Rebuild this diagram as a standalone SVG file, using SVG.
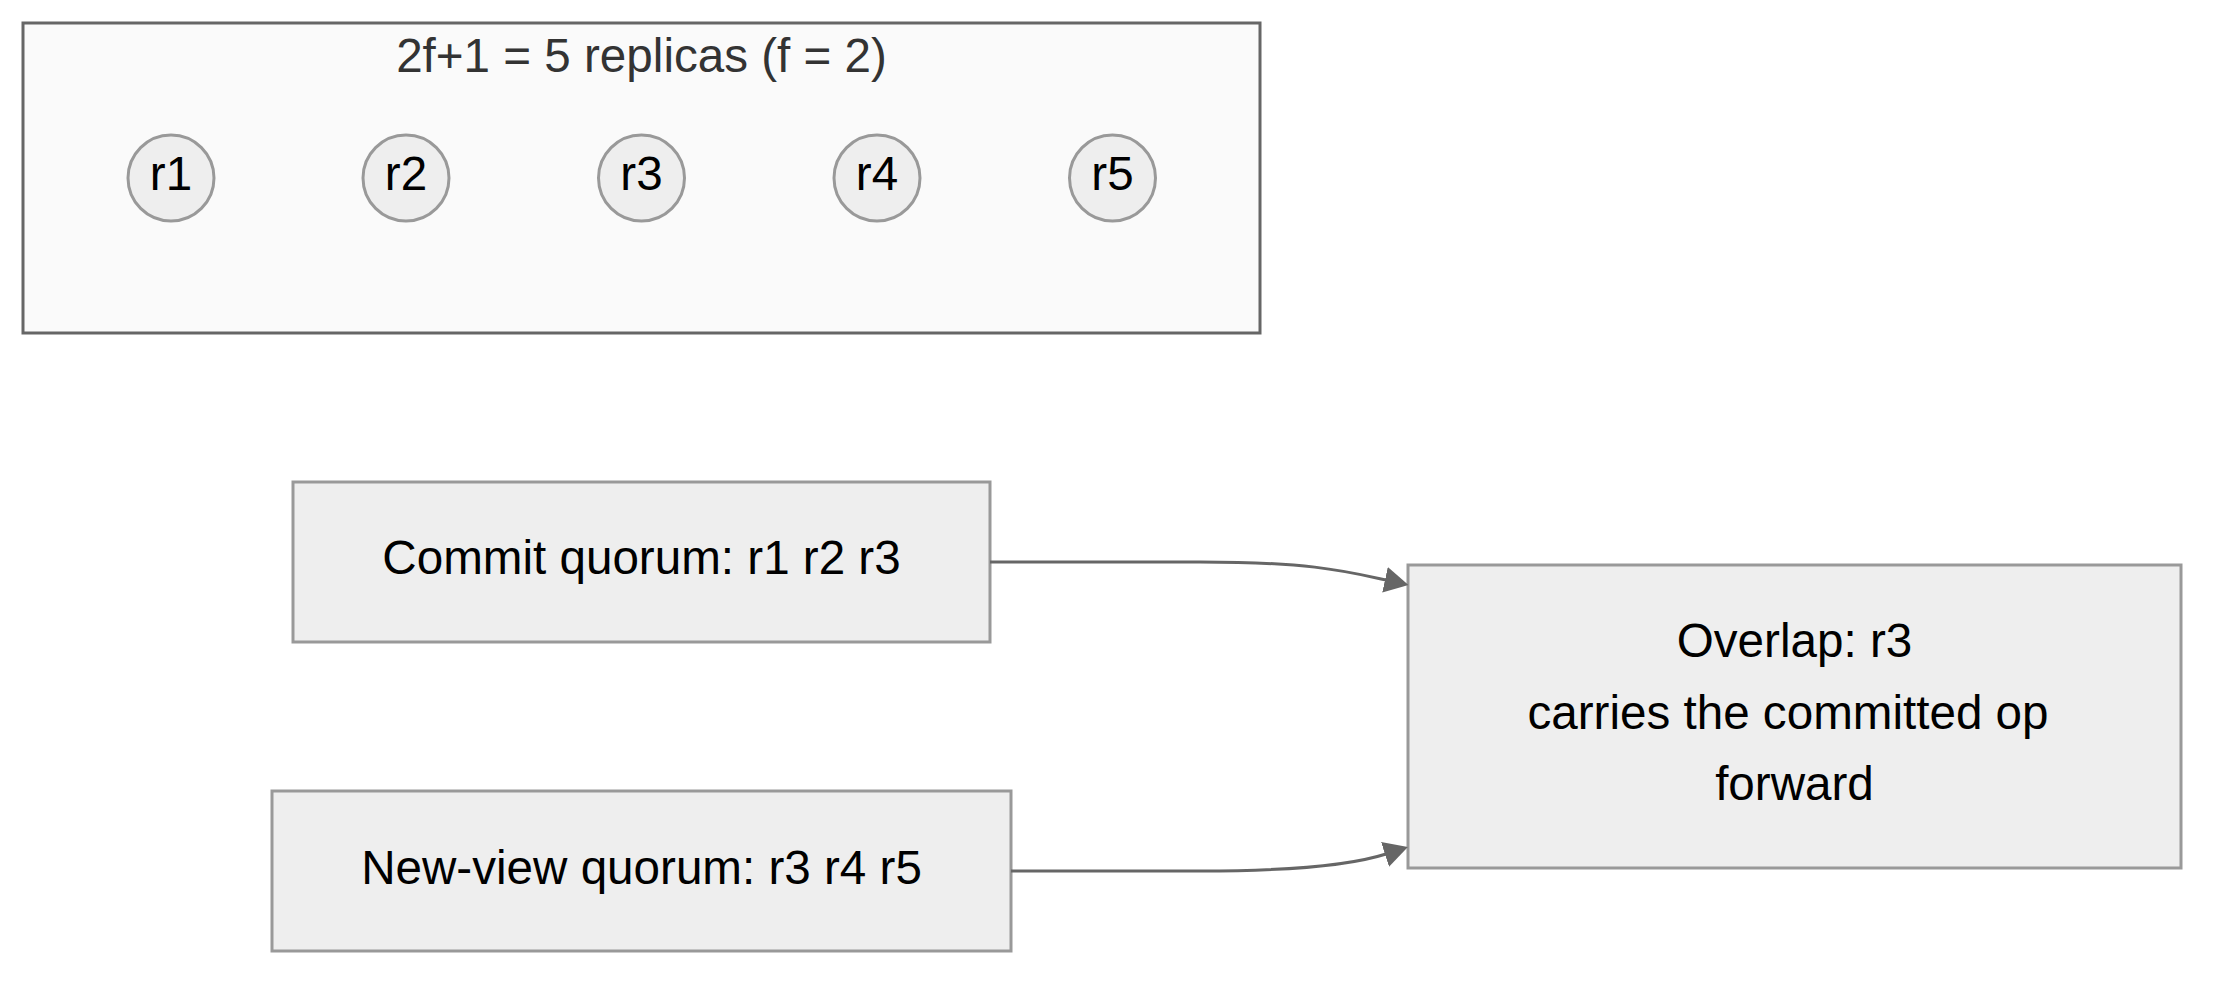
<svg xmlns="http://www.w3.org/2000/svg" width="2229" height="987" viewBox="0 0 2229 987">
<style>
  .cluster { fill: #fafafa; stroke: #666666; stroke-width: 3; }
  .node { fill: #eeeeee; stroke: #999999; stroke-width: 3; }
  .lbl { font-family: "Liberation Sans", Arial, sans-serif; font-size: 47.6px; fill: #000000; text-anchor: middle; }
  .title { font-family: "Liberation Sans", Arial, sans-serif; font-size: 47.6px; fill: #333333; text-anchor: middle; }
  .edge { fill: none; stroke: #666666; stroke-width: 3; }
</style>
<defs>
  <marker id="arrow" markerUnits="userSpaceOnUse" markerWidth="25" markerHeight="26" refX="1" refY="13" orient="auto" viewBox="0 0 25 26">
    <path d="M0,0 L24,13 L0,26 z" fill="#666666"/>
  </marker>
</defs>
<rect width="2229" height="987" fill="#ffffff"/>
<g id="cluster-replicas">
  <rect class="cluster" x="23" y="23" width="1237" height="310"/>
  <text class="title" x="641.5" y="71.5">2f+1 = 5 replicas (f = 2)</text>
</g>
<g id="r1"><circle class="node" cx="171" cy="178" r="43"/><text class="lbl" x="171" y="190">r1</text></g>
<g id="r2"><circle class="node" cx="406" cy="178" r="43"/><text class="lbl" x="406" y="190">r2</text></g>
<g id="r3"><circle class="node" cx="641.5" cy="178" r="43"/><text class="lbl" x="641.5" y="190">r3</text></g>
<g id="r4"><circle class="node" cx="877" cy="178" r="43"/><text class="lbl" x="877" y="190">r4</text></g>
<g id="r5"><circle class="node" cx="1112.5" cy="178" r="43"/><text class="lbl" x="1112.5" y="190">r5</text></g>
<g id="commit">
  <rect class="node" x="293" y="482" width="697" height="160"/>
  <text class="lbl" x="641.5" y="573.5">Commit quorum: r1 r2 r3</text>
</g>
<g id="newview">
  <rect class="node" x="272" y="791" width="739" height="160"/>
  <text class="lbl" x="641.5" y="883.5">New-view quorum: r3 r4 r5</text>
</g>
<g id="overlap">
  <rect class="node" x="1408" y="565" width="773" height="303"/>
  <text class="lbl" x="1794.5" y="656.5">Overlap: r3</text>
  <text class="lbl" x="1788" y="728.5">carries the committed op</text>
  <text class="lbl" x="1794.5" y="800">forward</text>
</g>
<g id="connectors">
  <path class="edge" d="M990,562 L1200,562 C1310,562 1345,571 1386,580" marker-end="url(#arrow)"/>
  <path class="edge" d="M1011,871 L1200,871 C1300,871 1355,864 1386,854" marker-end="url(#arrow)"/>
</g>
</svg>
